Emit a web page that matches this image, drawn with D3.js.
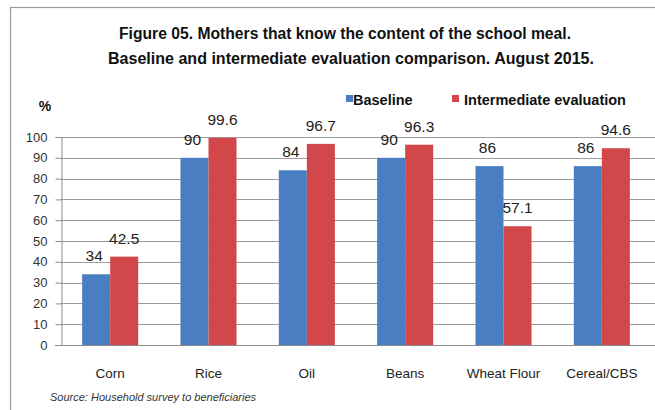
<!DOCTYPE html>
<html><head><meta charset="utf-8">
<script src="https://cdn.jsdelivr.net/npm/d3@7"></script>
<style>html,body{margin:0;padding:0;background:#fff;}svg{display:block;}</style>
</head><body>
<svg id="c" width="655" height="410"></svg>
<script>
const categories = ["Corn", "Rice", "Oil", "Beans", "Wheat Flour", "Cereal/CBS"];
const categoryLabels = ["Corn", "Rice", "Oil", "Beans", "Wheat Flour", "Cereal/CBS"];
const seriesNames = ["Baseline", "Intermediate evaluation"];
const baseline = [34, 90, 84, 90, 86, 86];
const intermediate = [42.5, 99.6, 96.7, 96.3, 57.1, 94.6];
const baselineLabels = ["34", "90", "84", "90", "86", "86"];
const intermediateLabels = ["42.5", "99.6", "96.7", "96.3", "57.1", "94.6"];
const yTicks = [0, 10, 20, 30, 40, 50, 60, 70, 80, 90, 100];
const colors = ["#4A7EC3", "#D2484A"];
const titleLines = ["Figure 05. Mothers that know the content of the school meal.",
                    "Baseline and intermediate evaluation comparison. August 2015."];

const svg = d3.select("#c");
const font = "'Liberation Sans', Arial, sans-serif";

// frame
svg.append("rect").attr("x", 10.5).attr("y", 7.5).attr("width", 660).attr("height", 420)
  .attr("fill", "#fff").attr("stroke", "#9a9a9a").attr("stroke-width", 1.2);

// title
const titleX = [345, 351], titleY = [39, 64], titleW = [452, 486];
titleLines.forEach((t, i) => {
  svg.append("text").attr("x", titleX[i]).attr("y", titleY[i]).attr("text-anchor", "middle")
    .attr("font-family", font).attr("font-weight", "bold")
    .attr("font-size", 16).attr("fill", "#111")
    .attr("textLength", titleW[i]).attr("lengthAdjust", "spacingAndGlyphs").text(t);
});

const x0 = d3.scaleBand().domain(categories).range([61, 651]).paddingInner(0.43).paddingOuter(0.215);
const x1 = d3.scaleBand().domain(seriesNames).range([0, x0.bandwidth()]);
const y = d3.scaleLinear().domain([0, 100]).range([345, 137]);

// gridlines
svg.append("g").selectAll("line").data(yTicks.filter(d => d > 0)).join("line")
  .attr("x1", 61).attr("x2", 655).attr("y1", d => Math.round(y(d)) + 0.5).attr("y2", d => Math.round(y(d)) + 0.5)
  .attr("stroke", "#9c9c9c").attr("stroke-width", 1);

// y axis
const yAxis = svg.append("g").attr("transform", "translate(61.5,0)")
  .call(d3.axisLeft(y).tickValues(yTicks).tickSize(6).tickPadding(8).tickFormat(d3.format("d")));
yAxis.select(".domain").attr("stroke", "#8c8c8c");
yAxis.selectAll(".tick line").attr("stroke", "#8c8c8c");
yAxis.selectAll(".tick text").attr("font-family", font)
  .attr("font-size", 13).attr("fill", "#333");

// x axis baseline
svg.append("line").attr("x1", 55).attr("x2", 655).attr("y1", 345.5).attr("y2", 345.5)
  .attr("stroke", "#8c8c8c");

// bars
const series = [baseline, intermediate];
const seriesLabels = [baselineLabels, intermediateLabels];
series.forEach((vals, si) => {
  const g = svg.append("g");
  g.selectAll("rect").data(categories).join("rect")
    .attr("x", c => x0(c) + x1(seriesNames[si]))
    .attr("y", (c, i) => y(vals[i]))
    .attr("width", x1.bandwidth())
    .attr("height", (c, i) => y(0) - y(vals[i]))
    .attr("fill", colors[si]);
  g.selectAll("text").data(categories).join("text")
    .attr("x", c => x0(c) + x1(seriesNames[si]) + x1.bandwidth() / 2 - (si === 0 ? 2 : 0))
    .attr("y", (c, i) => y(vals[i]) - 13)
    .attr("text-anchor", "middle")
    .attr("font-family", font).attr("font-size", 15.5)
    .attr("fill", "#222").text((c, i) => seriesLabels[si][i]);
});

// x labels
svg.append("g").selectAll("text").data(categories).join("text")
  .attr("x", c => x0(c) + x0.bandwidth() / 2).attr("y", 378)
  .attr("text-anchor", "middle").attr("font-family", font)
  .attr("font-size", 13.5).attr("fill", "#222").text((c, i) => categoryLabels[i]);

// y unit
svg.append("text").attr("x", 45).attr("y", 111).attr("text-anchor", "middle")
  .attr("font-family", font).attr("font-weight", "bold")
  .attr("font-size", 14).attr("fill", "#111").text("%");

// legend
const legX = [346, 452], legTX = [353, 464];
seriesNames.forEach((n, i) => {
  svg.append("rect").attr("x", legX[i]).attr("y", 95).attr("width", 7).attr("height", 7).attr("fill", colors[i]);
  svg.append("text").attr("x", legTX[i]).attr("y", 104.5)
    .attr("font-family", font).attr("font-weight", "bold")
    .attr("font-size", 14.5).attr("fill", "#111").text(n);
});

// source
svg.append("text").attr("x", 50).attr("y", 401)
  .attr("font-family", font).attr("font-style", "italic")
  .attr("font-size", 11).attr("fill", "#333").text("Source: Household survey to beneficiaries");
</script>
</body></html>
